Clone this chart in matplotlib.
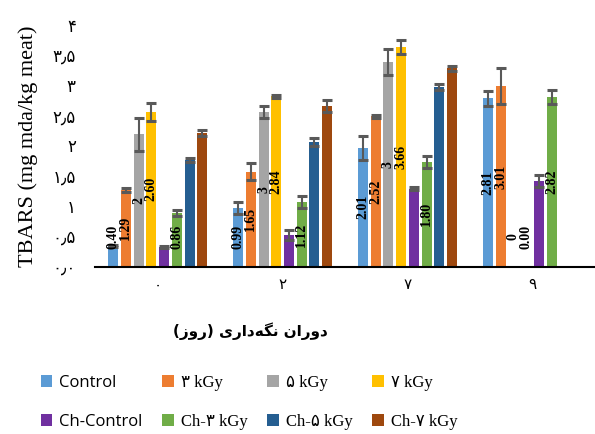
#!/usr/bin/env python3
import numpy as np
import matplotlib
matplotlib.use('Agg')
import matplotlib.pyplot as plt

# storage days (Persian digits) and series
days = ['۰', '۲', '۷', '۹']
series = ['Control', '۳ kGy', '۵ kGy', '۷ kGy', 'Ch-Control', 'Ch-۳ kGy', 'Ch-۵ kGy', 'Ch-۷ kGy']
colors = ['#5B9BD5', '#ED7D31', '#A5A5A5', '#FFC000', '#7030A0', '#70AD47', '#255E91', '#9E480E']

control = [0.35, 0.98, 1.98, 2.80]
gy3 = [1.28, 1.58, 2.50, 3.00]
gy5 = [2.20, 2.57, 3.40, 0.0]
gy7 = [2.58, 2.83, 3.65, 0.0]
ch_control = [0.33, 0.53, 1.30, 1.42]
ch_gy3 = [0.90, 1.07, 1.75, 2.82]
ch_gy5 = [1.78, 2.07, 2.98, np.nan]
ch_gy7 = [2.23, 2.68, 3.30, np.nan]

control_err = [0.02, 0.10, 0.20, 0.12]
gy3_err = [0.03, 0.14, 0.02, 0.30]
gy5_err = [0.28, 0.10, 0.22, np.nan]
gy7_err = [0.15, 0.03, 0.12, np.nan]
ch_control_err = [0.02, 0.08, 0.03, 0.10]
ch_gy3_err = [0.05, 0.10, 0.10, 0.12]
ch_gy5_err = [0.03, 0.07, 0.05, np.nan]
ch_gy7_err = [0.05, 0.10, 0.04, np.nan]

# value labels written on the bars (None = no label)
control_labels = ['0.40', '0.99', '2.01', '2.81']
gy3_labels = ['1.29', '1.65', '2.52', '3.01']
gy5_labels = ['2', '3', '3', '0']
gy7_labels = ['2.60', '2.84', '3.66', '0.00']
ch_gy3_labels = ['0.86', '1.12', '1.80', '2.82']

yticks = [0, 0.5, 1, 1.5, 2, 2.5, 3, 3.5, 4]
ytick_labels = ['۰٫۰', '۰٫۵', '۱', '۱٫۵', '۲', '۲٫۵', '۳', '۳٫۵', '۴']

# "دوران نگه‌داری (روز)" in visual order with contextual forms (no shaping in matplotlib)
xtitle = '(\uFEAF\uFEED\uFEAD) \uFBFC\uFEAD\uFE8D\uFEA9\uFEEA\uFB95\uFEE7 \uFEE5\uFE8D\uFEAD\uFEED\uFEA9'

values = [control, gy3, gy5, gy7, ch_control, ch_gy3, ch_gy5, ch_gy7]
errors = [control_err, gy3_err, gy5_err, gy7_err, ch_control_err, ch_gy3_err, ch_gy5_err, ch_gy7_err]
labels = [control_labels, gy3_labels, gy5_labels, gy7_labels, None, ch_gy3_labels, None, None]

serif = ['Liberation Serif', 'DejaVu Sans']

fig = plt.figure(figsize=(5.95, 4.34), dpi=100)
ax = fig.add_axes([0.16, 0.385, 0.84, 0.555])

x = np.arange(len(days))
width = 0.08
step = 0.102
handles = []
for i in range(len(series)):
    pos = x + (i - 3.5) * step
    b = ax.bar(pos, values[i], width, color=colors[i], label=series[i], zorder=2)
    handles.append(b)
    ax.errorbar(pos, values[i], yerr=errors[i], fmt='none', ecolor='#595959',
                elinewidth=1.5, capsize=3.5, capthick=2.2, zorder=3)
    if labels[i] is not None:
        for j in range(len(days)):
            v = values[i][j]
            ax.text(pos[j], max(v / 2, 0.5), labels[i][j], rotation=90, ha='center', va='center',
                    fontsize=10, fontweight='bold', family=serif, zorder=4)

ax.set_xlim(-0.5, 3.5)
ax.set_ylim(0, 4)
ax.set_xticks(x)
ax.set_xticklabels(days, fontsize=11, family=serif)
ax.set_yticks(yticks)
ax.set_yticklabels(ytick_labels, fontsize=12, family=serif)
ax.tick_params(axis='y', length=0, pad=14)
ax.tick_params(axis='x', length=0, pad=9)
for s in ['top', 'right', 'left']:
    ax.spines[s].set_visible(False)
ax.spines['bottom'].set_linewidth(1.5)
ax.set_ylabel('TBARS (mg mda/kg meat)', fontsize=16, family=serif, labelpad=10)
ax.set_xlabel(xtitle, fontsize=11, fontweight='bold', family=['DejaVu Sans'])
ax.xaxis.set_label_coords(0.31, -0.23)

order = [0, 4, 1, 5, 2, 6, 3, 7]
leg = fig.legend([handles[k] for k in order], [series[k] for k in order], ncol=4,
                 loc='lower left', bbox_to_anchor=(0.043, -0.025), frameon=False,
                 handlelength=0.7, handleheight=0.7, handletextpad=0.4,
                 columnspacing=1.2, labelspacing=1.4, fontsize=12)
for t in leg.get_texts():
    if t.get_text() in ('Control', 'Ch-Control'):
        t.set_family(['Open Sans', 'DejaVu Sans'])
    else:
        t.set_family(serif)

plt.savefig('out.png', dpi=100)
